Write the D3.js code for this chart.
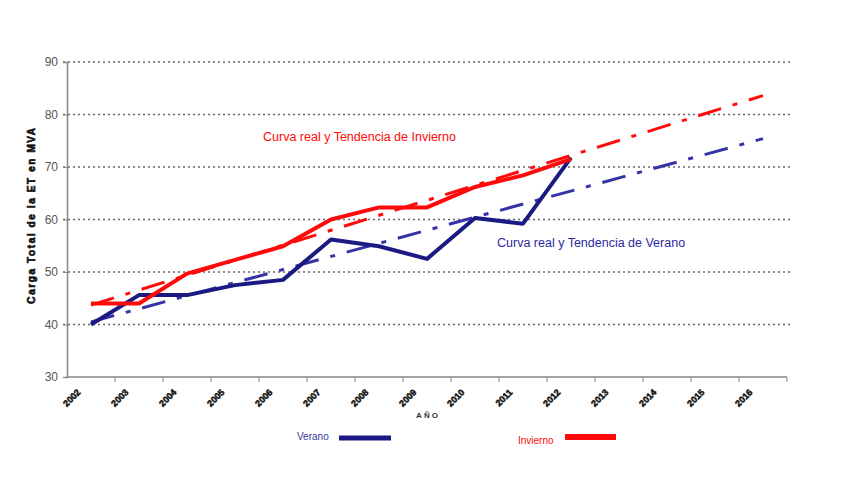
<!DOCTYPE html>
<html>
<head>
<meta charset="utf-8">
<script src="https://cdn.jsdelivr.net/npm/d3@7"></script>
<style>
  body { margin: 0; background: #fff; }
  text { font-family: "Liberation Sans", Arial, sans-serif; }
</style>
</head>
<body>
<div id="chart"></div>
<script>
let years = ["2002","2003","2004","2005","2006","2007","2008","2009","2010","2011","2012","2013","2014","2015","2016"];
let yTicks = [30, 40, 50, 60, 70, 80, 90];

// real curves (2002 - 2012)
let verano = [40, 45.6, 45.6, 47.5, 48.5, 56.2, 54.9, 52.5, 60.3, 59.2, 71.8];
let invierno = [44, 44, 49.7, 52.3, 54.9, 60, 62.3, 62.3, 66.2, 68.4, 71.5];

// trend lines, read at the first and last year
let trendYears = ["2002", "2016"];
let veranoTrend = [40.5, 75.4];
let inviernoTrend = [43.7, 83.6];

let svgWidth = 848;
let svgHeight = 477;

let margin = { top: 62, right: 61, bottom: 100, left: 67 };
let width = svgWidth - margin.left - margin.right;
let height = svgHeight - margin.top - margin.bottom;

let blue = "#1a1a82";
let blueTrend = "#3434a6";
let red = "#ff0a0a";

let svg = d3.select("#chart")
  .append("svg")
  .attr("width", svgWidth)
  .attr("height", svgHeight);

let chartGroup = svg.append("g")
  .attr("transform", `translate(${margin.left}, ${margin.top})`);

let x = d3.scaleBand()
  .domain(years)
  .range([0, width]);

let y = d3.scaleLinear()
  .domain([30, 90])
  .range([height, 0]);

// dotted grid lines
chartGroup.append("g")
  .selectAll("line")
  .data(yTicks.slice(1))
  .enter()
  .append("line")
  .attr("x1", -4)
  .attr("x2", width + 4)
  .attr("y1", d => y(d))
  .attr("y2", d => y(d))
  .attr("stroke", "#666")
  .attr("stroke-width", 1.6)
  .attr("stroke-dasharray", "2,3");

// y axis
let leftAxis = d3.axisLeft(y).tickValues(yTicks).tickSize(4).tickPadding(5);
let yAxis = chartGroup.append("g").call(leftAxis);
yAxis.select(".domain").attr("stroke", "#888").attr("stroke-width", 1.5);
yAxis.selectAll(".tick line").attr("stroke", "#888");
yAxis.selectAll("text")
  .attr("font-size", 12)
  .attr("fill", "#555")
  .style("font-family", "Liberation Sans, Arial, sans-serif");

// x axis, ticks on category boundaries
chartGroup.append("line")
  .attr("x1", 0).attr("x2", width)
  .attr("y1", height).attr("y2", height)
  .attr("stroke", "#888").attr("stroke-width", 1.5);

chartGroup.append("g")
  .selectAll("line")
  .data(years)
  .enter()
  .append("line")
  .attr("x1", d => x(d) + x.bandwidth())
  .attr("x2", d => x(d) + x.bandwidth())
  .attr("y1", height)
  .attr("y2", height + 5)
  .attr("stroke", "#888");

chartGroup.append("g")
  .selectAll("text")
  .data(years)
  .enter()
  .append("text")
  .text(d => d)
  .attr("text-anchor", "end")
  .attr("font-size", 9)
  .attr("font-weight", "bold")
  .attr("fill", "#111")
  .attr("stroke", "#111")
  .attr("stroke-width", 0.5)
  .attr("transform", d => `translate(${x(d) + x.bandwidth() / 2 - 10}, ${height + 16}) rotate(-45)`);

let cx = d => x(d) + x.bandwidth() / 2;

let line = d3.line()
  .x(d => cx(d[0]))
  .y(d => y(d[1]));

// trend lines
chartGroup.append("path")
  .datum(d3.zip(trendYears, veranoTrend))
  .attr("d", line)
  .attr("fill", "none")
  .attr("stroke", blueTrend)
  .attr("stroke-width", 3)
  .attr("stroke-dasharray", "24,12,5,12");

chartGroup.append("path")
  .datum(d3.zip(trendYears, inviernoTrend))
  .attr("d", line)
  .attr("fill", "none")
  .attr("stroke", red)
  .attr("stroke-width", 3)
  .attr("stroke-dasharray", "24,12,5,12");

// real curves
chartGroup.append("path")
  .datum(d3.zip(years, verano))
  .attr("d", line)
  .attr("fill", "none")
  .attr("stroke", blue)
  .attr("stroke-width", 4)
  .attr("stroke-linejoin", "round");

chartGroup.append("path")
  .datum(d3.zip(years, invierno))
  .attr("d", line)
  .attr("fill", "none")
  .attr("stroke", red)
  .attr("stroke-width", 4)
  .attr("stroke-linejoin", "round");

// annotations
svg.append("text")
  .attr("x", 263).attr("y", 141)
  .attr("font-size", 12.5)
  .attr("fill", red)
  .text("Curva real y Tendencia de Invierno");

svg.append("text")
  .attr("x", 497).attr("y", 247)
  .attr("font-size", 12.5)
  .attr("fill", "#2a2aa0")
  .text("Curva real y Tendencia de Verano");

// axis titles
svg.append("text")
  .attr("transform", "translate(35, 215) rotate(-90)")
  .attr("text-anchor", "middle")
  .attr("font-size", 10)
  .attr("font-weight", "bold")
  .attr("letter-spacing", 1.6)
  .attr("fill", "#111")
  .attr("stroke", "#111")
  .attr("stroke-width", 0.6)
  .text("Carga Total de la ET en MVA");

svg.append("text")
  .attr("x", 428).attr("y", 418)
  .attr("text-anchor", "middle")
  .attr("font-size", 8)
  .attr("font-weight", "bold")
  .attr("letter-spacing", 2)
  .attr("fill", "#333")
  .text("AÑO");

// legend
svg.append("text")
  .attr("x", 297).attr("y", 440)
  .attr("font-size", 10)
  .attr("fill", "#3a3aa0")
  .text("Verano");
svg.append("line")
  .attr("x1", 339).attr("x2", 391)
  .attr("y1", 438).attr("y2", 438)
  .attr("stroke", blue).attr("stroke-width", 5);

svg.append("text")
  .attr("x", 518).attr("y", 444)
  .attr("font-size", 10)
  .attr("fill", red)
  .text("Invierno");
svg.append("line")
  .attr("x1", 565).attr("x2", 616)
  .attr("y1", 437).attr("y2", 437)
  .attr("stroke", red).attr("stroke-width", 6);
</script>
</body>
</html>
